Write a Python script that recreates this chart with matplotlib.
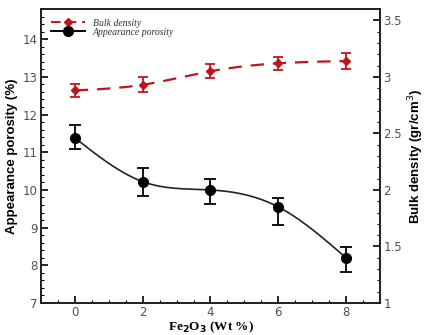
import numpy as np
import matplotlib.pyplot as plt
from matplotlib.ticker import MultipleLocator

fe2o3 = [0, 2, 4, 6, 8]

porosity = [11.38, 10.22, 10.0, 9.55, 8.2]
porosity_err_lo = [0.30, 0.37, 0.37, 0.48, 0.37]
porosity_err_hi = [0.33, 0.35, 0.30, 0.23, 0.28]

density = [2.88, 2.93, 3.05, 3.12, 3.14]
density_err = [0.055, 0.065, 0.06, 0.06, 0.07]


def smooth(x, y, n=200):
    # natural cubic spline through the points, used only for the drawn line
    x = np.asarray(x, float)
    y = np.asarray(y, float)
    k = len(x)
    h = np.diff(x)
    A = np.zeros((k, k))
    b = np.zeros(k)
    A[0, 0] = A[-1, -1] = 1
    for i in range(1, k - 1):
        A[i, i - 1] = h[i - 1]
        A[i, i] = 2 * (h[i - 1] + h[i])
        A[i, i + 1] = h[i]
        b[i] = 6 * ((y[i + 1] - y[i]) / h[i] - (y[i] - y[i - 1]) / h[i - 1])
    M = np.linalg.solve(A, b)
    xs = np.linspace(x[0], x[-1], n)
    idx = np.clip(np.searchsorted(x, xs) - 1, 0, k - 2)
    x0, x1 = x[idx], x[idx + 1]
    hh = x1 - x0
    t0, t1 = x1 - xs, xs - x0
    ys = (M[idx] * t0**3 + M[idx + 1] * t1**3) / (6 * hh) \
        + (y[idx] / hh - M[idx] * hh / 6) * t0 \
        + (y[idx + 1] / hh - M[idx + 1] * hh / 6) * t1
    return xs, ys


red = '#c0141c'
tick_col = '#505050'

fig = plt.figure(figsize=(4.25, 3.35), dpi=100)
ax = fig.add_axes([0.0965, 0.0955, 0.7975, 0.8775])
ax2 = ax.twinx()

# porosity (left axis)
xs, ys = smooth(fe2o3, porosity)
ax.plot(xs, ys, color='#222222', lw=1.2)
ax.errorbar(fe2o3, porosity, yerr=[porosity_err_lo, porosity_err_hi],
            fmt='o', color='black', ms=7, capsize=4, elinewidth=1.3, capthick=1.3)

# bulk density (right axis)
xs2, ys2 = smooth(fe2o3, density)
ax2.plot(xs2, ys2, color=red, lw=1.6, dashes=(6, 4))
ax2.errorbar(fe2o3, density, yerr=density_err, fmt='D', color=red, ms=4.5,
             capsize=3.5, elinewidth=1.3, capthick=1.3)

ax.set_xlim(-1, 9)
ax.set_ylim(7, 14.8)
ax2.set_ylim(1, 3.6)

ax.xaxis.set_major_locator(MultipleLocator(2))
ax.xaxis.set_minor_locator(MultipleLocator(0.5))
ax.yaxis.set_major_locator(MultipleLocator(1))
ax.yaxis.set_minor_locator(MultipleLocator(0.2))
ax2.yaxis.set_minor_locator(MultipleLocator(0.1))
ax2.set_yticks([1, 1.5, 2, 2.5, 3, 3.5])
ax2.set_yticklabels(['1', '1.5', '2', '2.5', '3', '3.5'])

for a in (ax, ax2):
    a.tick_params(which='major', direction='in', length=5, width=1.2,
                  labelsize=8.5, labelcolor=tick_col, pad=2.5)
    a.tick_params(which='minor', direction='in', length=2.5, width=0.8)
    for s in a.spines.values():
        s.set_linewidth(1.3)
        s.set_color('#222222')
ax.tick_params(top=False, right=False, which='both')

ax.set_ylabel('Appearance porosity (%)', fontsize=9.5, fontweight='bold',
              family='Liberation Sans', labelpad=3)
ax2.set_ylabel('Bulk density (gr/cm$^3$)', fontsize=9.5, fontweight='bold',
               family='Liberation Sans', labelpad=3)
ax.set_xlabel(r'Fe$_\mathbf{2}$O$_\mathbf{3}$ (Wt %)', fontsize=9.5,
              fontweight='bold', family='Liberation Serif', labelpad=0)

# legend drawn with handles from both axes
h1 = ax2.errorbar([], [], fmt='D-', color=red, ms=4.5, lw=1.4, dashes=(5, 3))
h2 = ax.errorbar([], [], fmt='o-', color='black', ms=7, lw=1.4)
leg = ax.legend([h1, h2], ['Bulk density', 'Appearance porosity'],
                loc='upper left', frameon=False, handlelength=3.5,
                labelspacing=0.0, borderaxespad=0.6, handletextpad=0.8,
                prop={'family': 'Liberation Serif', 'style': 'italic', 'size': 7})
for t in leg.get_texts():
    t.set_color('#333333')

fig.savefig('out.png', dpi=100)
